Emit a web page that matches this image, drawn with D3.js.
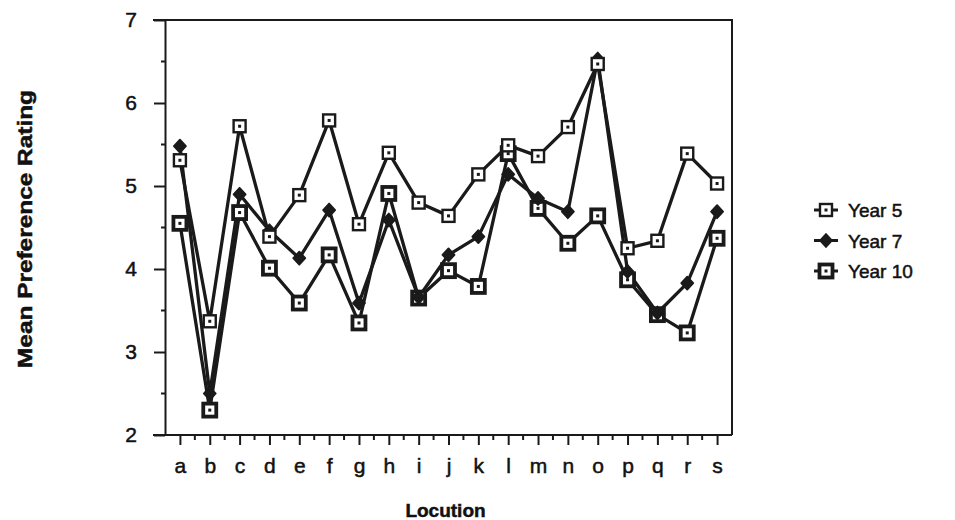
<!DOCTYPE html>
<html>
<head>
<meta charset="UTF-8">
<title>Mean Preference Rating by Location</title>
<style>
  body { margin: 0; background: #fff; }
  svg text { font-family: "Liberation Sans", Arial, Helvetica, sans-serif; fill: #111; stroke: #111; stroke-width: 0.5px; }
</style>
</head>
<body>
<svg id="chart" width="955" height="520"></svg>
<script src="https://cdnjs.cloudflare.com/ajax/libs/d3/7.8.5/d3.min.js"></script>
<script>
// locations along the x axis
const locations = ['a','b','c','d','e','f','g','h','i','j','k','l','m','n','o','p','q','r','s'];

// mean ratings
const year5  = [5.31, 3.37, 5.72, 4.39, 4.89, 5.79, 4.54, 5.40, 4.80, 4.64, 5.14, 5.49, 5.36, 5.71, 6.47, 4.25, 4.34, 5.39, 5.03];
const year7  = [5.48, 2.50, 4.90, 4.46, 4.13, 4.71, 3.59, 4.59, 3.66, 4.17, 4.39, 5.14, 4.85, 4.69, 6.53, 3.97, 3.47, 3.83, 4.69];
const year10 = [4.55, 2.30, 4.68, 4.01, 3.59, 4.17, 3.35, 4.91, 3.65, 3.98, 3.79, 5.39, 4.73, 4.31, 4.64, 3.87, 3.45, 3.23, 4.37];

const seriesNames = ['Year 5', 'Year 7', 'Year 10'];
const yTicks = [2, 3, 4, 5, 6, 7];

var svg = d3.select('#chart');
// plot box ("top" is taken by window.top, so use other names)
var plotLeft = 165, plotRight = 732, plotTop = 20, plotBottom = 435;
var ink = '#1a1a1a';

var x = d3.scalePoint().domain(locations).range([plotLeft, plotRight]).padding(0.5);
var y = d3.scaleLinear().domain([2, 7]).range([plotBottom, plotTop]);

// minor ticks: halfway between locations / half units
var minorX = locations.slice(0, -1).map(function (d, i) {
    return (x(d) + x(locations[i + 1])) / 2;
});
var minorY = d3.range(2.5, 7, 1);

// frame: top and right border
svg.append('path')
    .attr('d', 'M' + (plotLeft - 12) + ',' + plotTop + 'H' + plotRight + 'V' + plotBottom)
    .attr('fill', 'none').attr('stroke', ink).attr('stroke-width', 2);

// y axis
var yAxis = svg.append('g')
    .attr('transform', 'translate(' + plotLeft + ',0)')
    .call(d3.axisLeft(y).tickValues(yTicks).tickFormat(d3.format('d')).tickSize(11).tickPadding(17).tickSizeOuter(0));
yAxis.select('.domain').attr('stroke', ink).attr('stroke-width', 2);
yAxis.selectAll('.tick line').attr('stroke', ink).attr('stroke-width', 2);
yAxis.selectAll('.tick text').style('font-size', '21px').attr('fill', '#111');

svg.append('g').selectAll('line').data(minorY).enter().append('line')
    .attr('x1', plotLeft - 4).attr('x2', plotLeft)
    .attr('y1', function (d) { return y(d); }).attr('y2', function (d) { return y(d); })
    .attr('stroke', ink).attr('stroke-width', 2);

// x axis
var xAxis = svg.append('g')
    .attr('transform', 'translate(0,' + plotBottom + ')')
    .call(d3.axisBottom(x).tickSize(10).tickPadding(13).tickSizeOuter(0));
xAxis.select('.domain').attr('stroke', ink).attr('stroke-width', 2)
    .attr('d', 'M' + (plotLeft - 12) + ',0H' + plotRight);
xAxis.selectAll('.tick line').attr('stroke', ink).attr('stroke-width', 2);
xAxis.selectAll('.tick text').style('font-size', '21px').attr('fill', '#111');

svg.append('g').selectAll('line').data(minorX).enter().append('line')
    .attr('x1', function (d) { return d; }).attr('x2', function (d) { return d; })
    .attr('y1', plotBottom).attr('y2', plotBottom + 5)
    .attr('stroke', ink).attr('stroke-width', 2);

// axis titles
svg.append('text')
    .attr('transform', 'translate(32,229) rotate(-90)')
    .attr('text-anchor', 'middle')
    .attr('textLength', 278).attr('lengthAdjust', 'spacingAndGlyphs')
    .style('font-size', '20px').style('font-weight', 'bold')
    .text('Mean Preference Rating');

svg.append('text')
    .attr('x', (plotLeft + plotRight) / 2 - 3).attr('y', 517)
    .attr('text-anchor', 'middle')
    .style('font-size', '19px').style('font-weight', 'bold')
    .text('Locution');

// markers
function drawMarker(g, kind) {
    if (kind === 'Year 5') {
        g.append('rect').attr('x', -6).attr('y', -6).attr('width', 12).attr('height', 12)
            .attr('fill', '#fff').attr('stroke', ink).attr('stroke-width', 2.4);
        g.append('rect').attr('x', -1.5).attr('y', -1.5).attr('width', 3).attr('height', 3).attr('fill', ink);
    } else if (kind === 'Year 7') {
        g.append('path').attr('d', 'M0,-6.5L6,0L0,6.5L-6,0Z')
            .attr('fill', ink).attr('stroke', ink).attr('stroke-width', 1.8).attr('stroke-linejoin', 'round');
    } else {
        g.append('rect').attr('x', -6.5).attr('y', -6.5).attr('width', 13).attr('height', 13)
            .attr('fill', '#fff').attr('stroke', ink).attr('stroke-width', 3.8);
        g.append('rect').attr('x', -1.5).attr('y', -1.5).attr('width', 3).attr('height', 3).attr('fill', ink);
    }
}

var allSeries = [year5, year7, year10];
var line = d3.line()
    .x(function (d, i) { return x(locations[i]); })
    .y(function (d) { return y(d); });

// draw Year 10 first, then Year 7, then Year 5 on top
[2, 1, 0].forEach(function (s) {
    svg.append('path')
        .datum(allSeries[s])
        .attr('d', line)
        .attr('fill', 'none')
        .attr('stroke', ink)
        .attr('stroke-width', 3.3)
        .attr('stroke-linejoin', 'round');
});
[2, 1, 0].forEach(function (s) {
    svg.append('g').selectAll('g')
        .data(allSeries[s])
        .enter()
        .append('g')
        .attr('transform', function (d, i) {
            return 'translate(' + x(locations[i]) + ',' + y(d) + ')';
        })
        .each(function () { drawMarker(d3.select(this), seriesNames[s]); });
});

// legend
var legend = svg.append('g').attr('transform', 'translate(826,210)');
var legendRow = legend.selectAll('g')
    .data(seriesNames)
    .enter()
    .append('g')
    .attr('transform', function (d, i) { return 'translate(0,' + i * 30.5 + ')'; });
legendRow.append('line')
    .attr('x1', -12).attr('x2', 12)
    .attr('stroke', ink).attr('stroke-width', 3);
legendRow.each(function (d) { drawMarker(d3.select(this), d); });
legendRow.append('text')
    .attr('x', 22).attr('y', 7)
    .style('font-size', '19px')
    .text(function (d) { return d; });
</script>
</body>
</html>
